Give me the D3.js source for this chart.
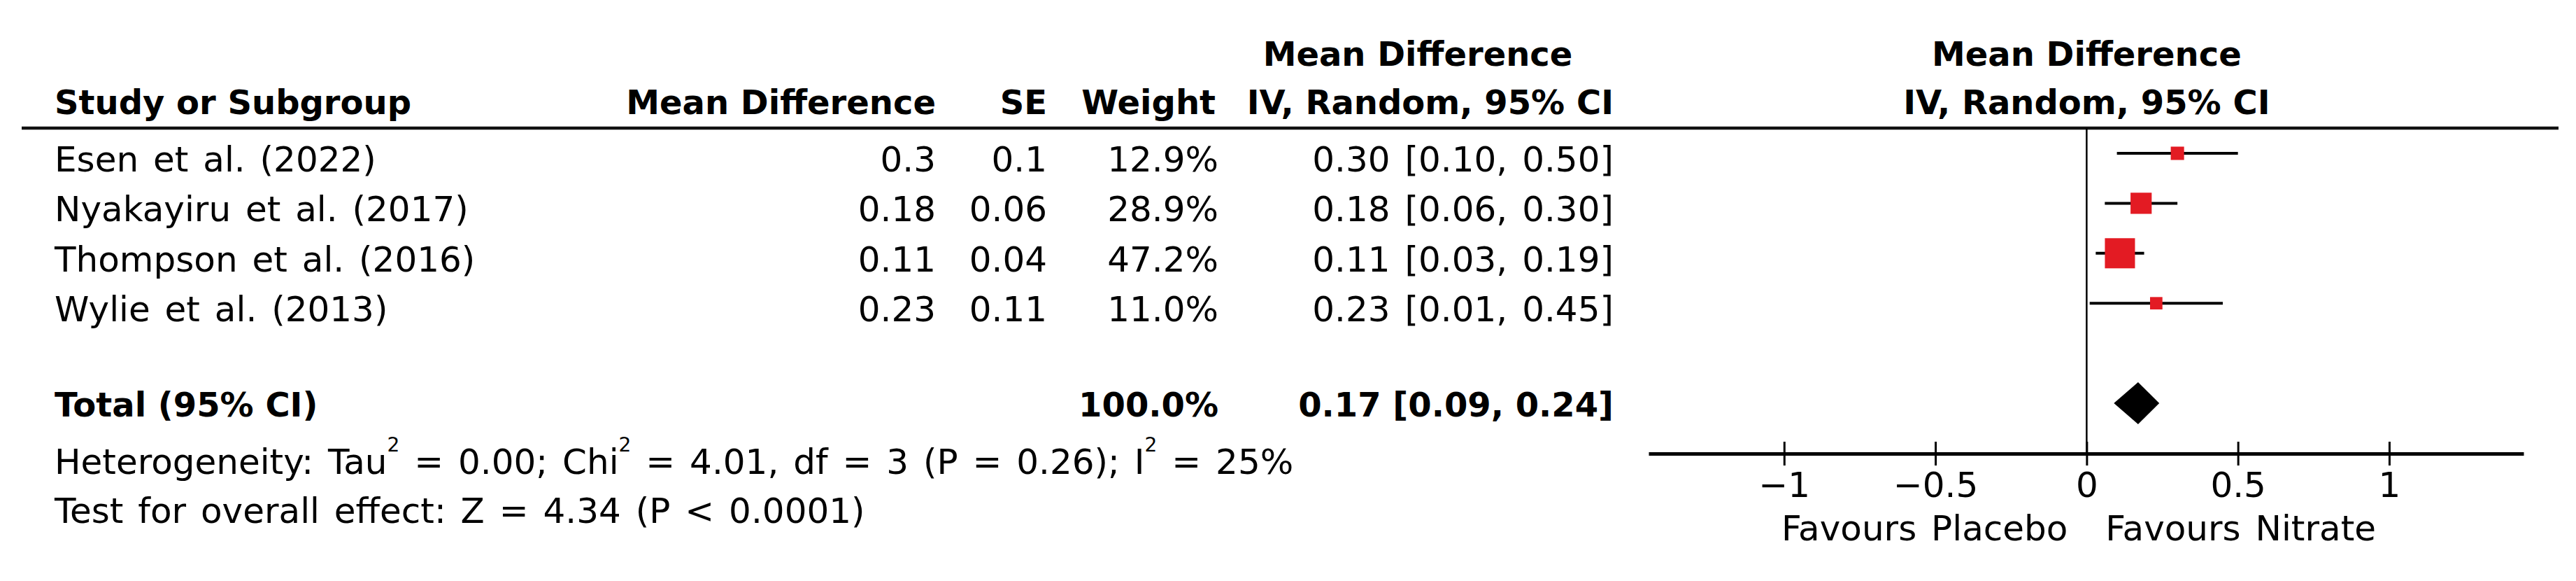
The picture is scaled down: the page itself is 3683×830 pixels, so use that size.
<!DOCTYPE html>
<html><head><meta charset="utf-8">
<script src="https://cdn.jsdelivr.net/npm/d3@7"></script>
<style>
html,body{margin:0;padding:0;background:#fff;}
svg{display:block;}
text{font-family:"DejaVu Sans",sans-serif;fill:#000;}
</style></head>
<body>
<script>
// ---- data ----
const studies = ["Esen et al. (2022)", "Nyakayiru et al. (2017)", "Thompson et al. (2016)", "Wylie et al. (2013)"];
const meanDiff = [0.3, 0.18, 0.11, 0.23];
const seValues = [0.1, 0.06, 0.04, 0.11];
const weights = [12.9, 28.9, 47.2, 11.0];
const ciLower = [0.10, 0.06, 0.03, 0.01];
const ciUpper = [0.50, 0.30, 0.19, 0.45];
const totalLabel = "Total (95% CI)";
const totalWeight = [100.0];
const totalEstimate = [0.17];
const totalLower = [0.09];
const totalUpper = [0.24];
const axisTicks = [-1, -0.5, 0, 0.5, 1];
const favoursLeft = "Favours Placebo";
const favoursRight = "Favours Nitrate";

const W = 3683, H = 830, FS = 50, FSB = 48, WS = 5;
const svg = d3.select("body").append("svg").attr("width", W).attr("height", H);
svg.append("rect").attr("width", W).attr("height", H).attr("fill", "#fff");

const f2 = d3.format(".2f"), f1 = d3.format(".1f");
const rowKeys = studies.concat(["_gap", "_total"]);
const y = d3.scalePoint().domain(rowKeys).range([219, 576]);
const x = d3.scaleLinear().domain([-1.448, 1.444]).range([2357, 3608]);
const size = d3.scaleLinear().domain([0, 100]).range([10, 80]);

const colName = 78, colMD = 1338, colSE = 1497, colW = 1742, colCI = 2307;
const txtOff = 26;

function txt(xp, yp, s, anchor, bold) {
  return svg.append("text").attr("x", xp).attr("y", yp).attr("text-anchor", anchor || "start")
    .attr("font-size", bold ? FSB : FS).attr("font-weight", bold ? "bold" : "normal")
    .style("word-spacing", bold ? "0px" : WS + "px").text(s);
}

// headers
txt(2027, 94, "Mean Difference", "middle", true);
txt(x(0), 94, "Mean Difference", "middle", true);
txt(colName, 163, "Study or Subgroup", "start", true);
txt(colMD, 163, "Mean Difference", "end", true);
txt(colSE, 163, "SE", "end", true);
txt(1738, 163, "Weight", "end", true);
txt(colCI, 163, "IV, Random, 95% CI", "end", true);
txt(x(0), 163, "IV, Random, 95% CI", "middle", true);

svg.append("line").attr("x1", 31).attr("x2", 3658).attr("y1", 183).attr("y2", 183)
  .attr("stroke", "#111").attr("stroke-width", 4.5);

// study rows
studies.forEach((s, i) => {
  const yy = y(s) + txtOff;
  txt(colName, yy, s);
  txt(colMD, yy, String(meanDiff[i]), "end");
  txt(colSE, yy, String(seValues[i]), "end");
  txt(colW, yy, f1(weights[i]) + "%", "end");
  txt(colCI, yy, `${f2(meanDiff[i])} [${f2(ciLower[i])}, ${f2(ciUpper[i])}]`, "end");
});

// total row
const yt = 595;
txt(colName, yt, totalLabel, "start", true);
txt(colW, yt, f1(totalWeight[0]) + "%", "end", true);
txt(colCI, yt, `${f2(totalEstimate[0])} [${f2(totalLower[0])}, ${f2(totalUpper[0])}]`, "end", true);

// heterogeneity
const het = svg.append("text").attr("x", colName).attr("y", 677).attr("font-size", FS)
  .style("word-spacing", WS + "px");
const sup = (t) => het.append("tspan").attr("font-size", 28).attr("dy", -32).text(t);
const norm = (t) => het.append("tspan").attr("font-size", FS).attr("dy", 32).text(t);
het.append("tspan").text("Heterogeneity: Tau");
sup("2"); norm(" = 0.00; Chi");
sup("2"); norm(" = 4.01, df = 3 (P = 0.26); I");
sup("2"); norm(" = 25%");
txt(colName, 747, "Test for overall effect: Z = 4.34 (P < 0.0001)");

// forest plot
const axisY = 648;
svg.append("line").attr("x1", x(0)).attr("x2", x(0)).attr("y1", 183).attr("y2", axisY)
  .attr("stroke", "#000").attr("stroke-width", 2.5);

const rows = studies.map((s, i) => ({s, md: meanDiff[i], lo: ciLower[i], hi: ciUpper[i], w: weights[i]}));
svg.selectAll(".ci").data(rows).enter().append("line")
  .attr("x1", d => x(d.lo)).attr("x2", d => x(d.hi))
  .attr("y1", d => y(d.s)).attr("y2", d => y(d.s))
  .attr("stroke", "#000").attr("stroke-width", 4);
svg.selectAll(".sq").data(rows).enter().append("rect")
  .attr("x", d => x(d.md) - size(d.w) / 2).attr("y", d => y(d.s) - size(d.w) / 2)
  .attr("width", d => size(d.w)).attr("height", d => size(d.w))
  .attr("fill", "#e31b23");

const yd = y("_total");
svg.append("path")
  .attr("d", `M${x(totalLower[0])},${yd} L${x(totalEstimate[0])},${yd - 30} L${x(totalUpper[0])},${yd} L${x(totalEstimate[0])},${yd + 30} Z`)
  .attr("fill", "#000");

// axis
const ax = svg.append("g").attr("transform", `translate(0,${axisY})`)
  .call(d3.axisBottom(x).tickValues(axisTicks).tickFormat(d3.format("")).tickSizeOuter(0).tickSizeInner(17).tickPadding(0));
ax.select(".domain").attr("stroke", "#000").attr("stroke-width", 5);
ax.selectAll(".tick line").attr("y1", -17).attr("y2", 17).attr("stroke", "#000").attr("stroke-width", 3);
ax.selectAll(".tick text").attr("font-size", FS).attr("font-family", "DejaVu Sans").attr("fill", "#000")
  .attr("dy", 0).attr("y", 62);

txt(x(0) - 27, 772, favoursLeft, "end");
txt(x(0) + 27, 772, favoursRight, "start");
</script>
</body></html>
